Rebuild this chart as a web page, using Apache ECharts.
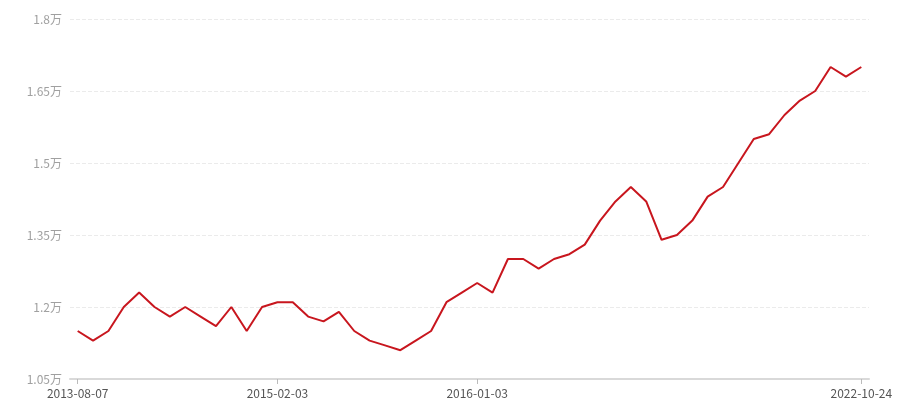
<!DOCTYPE html>
<html>
<head>
<meta charset="utf-8">
<script src="https://cdn.jsdelivr.net/npm/echarts@6/dist/echarts.min.js"></script>
<style>html,body{margin:0;padding:0;background:#fff}#c{width:900px;height:400px}</style>
</head>
<body>
<div id="c"></div>
<script>
var categories = [
  '2013-08-07','2013-09-18','2013-10-30','2013-12-11','2014-01-22','2014-03-05','2014-04-16','2014-05-28',
  '2014-07-09','2014-08-20','2014-10-01','2014-11-12','2014-12-24','2015-02-03','2015-02-28','2015-03-25',
  '2015-04-19','2015-05-14','2015-06-08','2015-07-03','2015-07-28','2015-08-22','2015-09-16','2015-10-11',
  '2015-11-05','2015-12-01','2016-01-03','2016-04-12','2016-07-21','2016-10-29','2017-02-06','2017-05-17',
  '2017-08-25','2017-12-03','2018-03-13','2018-06-21','2018-09-29','2019-01-07','2019-04-17','2019-07-26',
  '2019-11-03','2020-02-11','2020-05-21','2020-08-29','2020-12-07','2021-03-17','2021-06-25','2021-10-03',
  '2022-01-11','2022-04-21','2022-07-30','2022-10-24'
];
var values = [
  11500, 11300, 11500, 12000, 12300, 12000, 11800, 12000, 11800, 11600,
  12000, 11500, 12000, 12100, 12100, 11800, 11700, 11900, 11500, 11300,
  11200, 11100, 11300, 11500, 12100, 12300, 12500, 12300, 13000, 13000,
  12800, 13000, 13100, 13300, 13800, 14200, 14500, 14200, 13400, 13500,
  13800, 14300, 14500, 15000, 15500, 15600, 16000, 16300, 16500, 17000,
  16800, 17000
];
var labelIndices = [0, 13, 26, 51];
var yTicks = [10500, 12000, 13500, 15000, 16500, 18000];

var chart = echarts.init(document.getElementById('c'));
var font = '"Microsoft YaHei","Noto Sans CJK SC",sans-serif';
function showIdx(i){ return labelIndices.indexOf(i) >= 0; }
chart.setOption({
  animation: false,
  grid: { left: 70, right: 31, top: 19, bottom: 21, containLabel: false },
  xAxis: {
    type: 'category',
    data: categories,
    boundaryGap: true,
    axisLine: { lineStyle: { color: '#d9d9d9', width: 2 } },
    axisTick: { show: true, alignWithLabel: true, interval: showIdx, length: 5, lineStyle: { color: '#bbbbbb', width: 1 } },
    axisLabel: { interval: showIdx, color: '#555555', fontSize: 12, fontFamily: font, margin: 8 },
    splitLine: { show: false }
  },
  yAxis: {
    type: 'value',
    min: yTicks[0],
    max: yTicks[yTicks.length - 1],
    interval: yTicks[1] - yTicks[0],
    axisLine: { show: false },
    axisTick: { show: false },
    axisLabel: {
      color: '#a0a0a0', fontSize: 12, fontFamily: font, margin: 8,
      formatter: function (v) { return parseFloat((v / 10000).toFixed(2)) + '万'; }
    },
    splitLine: { lineStyle: { color: '#ebebeb', type: 'dashed', width: 1 } }
  },
  series: [{
    type: 'line',
    data: values,
    showSymbol: false,
    symbol: 'none',
    lineStyle: { color: '#c8161e', width: 2 },
    itemStyle: { color: '#c8161e' }
  }]
});
</script>
</body>
</html>
